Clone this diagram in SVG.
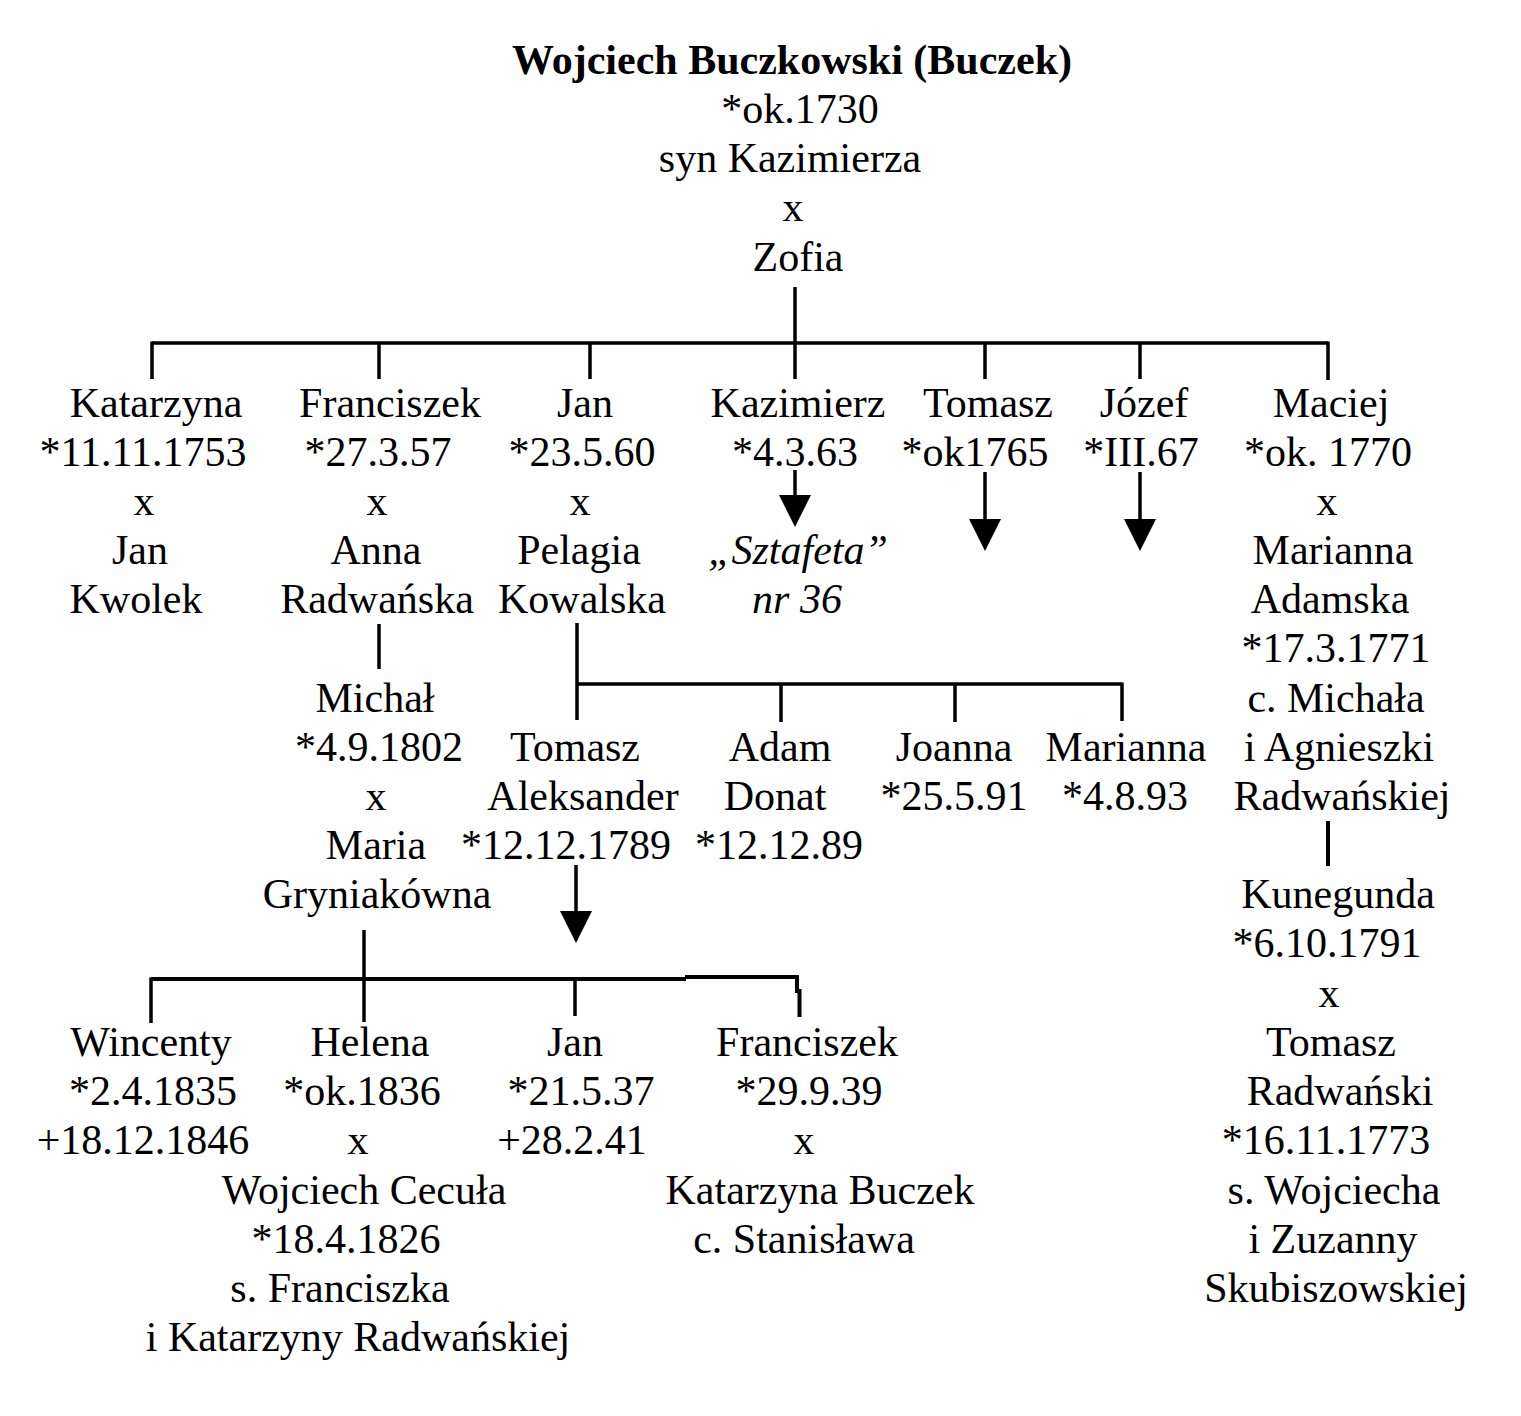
<svg xmlns="http://www.w3.org/2000/svg" width="1521" height="1416" viewBox="0 0 1521 1416">
<style>
text{font-family:"Liberation Serif","Times New Roman",serif;font-size:42px;fill:#000;text-anchor:middle}
.b{font-weight:bold}
.i{font-style:italic}
.c line,.c polyline{stroke:#000;stroke-width:3.5;fill:none}
</style>
<defs>
<marker id="ah" markerUnits="userSpaceOnUse" markerWidth="34" markerHeight="34" refX="26" refY="16" orient="auto">
<path d="M0,0 L32,16 L0,32 z" fill="#000"/>
</marker>
</defs>
<rect width="1521" height="1416" fill="#fff"/>
<g class="c" id="connectors">
<line x1="795" y1="287" x2="795" y2="379"/>
<line x1="152" y1="343" x2="1328" y2="343"/>
<line x1="152" y1="341.5" x2="152" y2="379"/>
<line x1="379" y1="343" x2="379" y2="379"/>
<line x1="590" y1="343" x2="590" y2="379"/>
<line x1="985" y1="343" x2="985" y2="379"/>
<line x1="1140" y1="343" x2="1140" y2="379"/>
<line x1="1328" y1="341.5" x2="1328" y2="380"/>
<line x1="795" y1="470" x2="795" y2="521" marker-end="url(#ah)"/>
<line x1="985" y1="472" x2="985" y2="545" marker-end="url(#ah)"/>
<line x1="1140" y1="472" x2="1140" y2="545" marker-end="url(#ah)"/>
<line x1="379" y1="624" x2="379" y2="669"/>
<line x1="577" y1="623" x2="577" y2="720"/>
<line x1="577" y1="684" x2="1122" y2="684"/>
<line x1="781" y1="684" x2="781" y2="722"/>
<line x1="955" y1="684" x2="955" y2="722"/>
<line x1="1122" y1="682.5" x2="1122" y2="721"/>
<line x1="576" y1="865" x2="576" y2="937" marker-end="url(#ah)"/>
<line x1="1328" y1="821" x2="1328" y2="866" style="stroke-width:4"/>
<line x1="364" y1="930" x2="364" y2="1022"/>
<line x1="151" y1="979" x2="686" y2="979" style="stroke-width:4"/>
<line x1="151" y1="977.5" x2="151" y2="1023"/>
<line x1="575" y1="979" x2="575" y2="1016"/>
<polyline points="685,977 797,977 797,991 799.5,991 799.5,1017" style="stroke-width:4"/>
</g>
<g id="n-root">
<text class="b" x="792" y="74">Wojciech Buczkowski (Buczek)</text>
<text x="800" y="123">*ok.1730</text>
<text x="790" y="172">syn Kazimierza</text>
<text x="793" y="221">x</text>
<text x="798" y="271">Zofia</text>
</g>
<g id="n-katarzyna">
<text x="156" y="417">Katarzyna</text>
<text x="143" y="466">*11.11.1753</text>
<text x="144" y="515">x</text>
<text x="140" y="564">Jan</text>
<text x="136" y="613">Kwolek</text>
</g>
<g id="n-franciszek">
<text x="390" y="417">Franciszek</text>
<text x="378" y="466">*27.3.57</text>
<text x="377" y="515">x</text>
<text x="376" y="564">Anna</text>
<text x="377" y="613">Radwańska</text>
</g>
<g id="n-jan">
<text x="585" y="417">Jan</text>
<text x="582" y="466">*23.5.60</text>
<text x="580" y="515">x</text>
<text x="579" y="564">Pelagia</text>
<text x="582" y="613">Kowalska</text>
</g>
<g id="n-kazimierz">
<text x="798" y="417">Kazimierz</text>
<text x="795" y="466">*4.3.63</text>
<text class="i" x="798" y="564">„Sztafeta”</text>
<text class="i" x="797" y="613">nr 36</text>
</g>
<g id="n-tomasz">
<text x="988" y="417">Tomasz</text>
<text x="975" y="466">*ok1765</text>
</g>
<g id="n-jozef">
<text x="1144" y="417">Józef</text>
<text x="1141" y="466">*III.67</text>
</g>
<g id="n-maciej">
<text x="1331" y="417">Maciej</text>
<text x="1328" y="466">*ok. 1770</text>
<text x="1327" y="515">x</text>
<text x="1333" y="564">Marianna</text>
<text x="1330" y="613">Adamska</text>
<text x="1336" y="662">*17.3.1771</text>
<text x="1336" y="712">c. Michała</text>
<text x="1339" y="761">i Agnieszki</text>
<text x="1342" y="810">Radwańskiej</text>
</g>
<g id="n-kunegunda">
<text x="1338" y="908">Kunegunda</text>
<text x="1327" y="957">*6.10.1791</text>
<text x="1329" y="1007">x</text>
<text x="1331" y="1056">Tomasz</text>
<text x="1340" y="1105">Radwański</text>
<text x="1326" y="1154">*16.11.1773</text>
<text x="1334" y="1204">s. Wojciecha</text>
<text x="1333" y="1253">i Zuzanny</text>
<text x="1336" y="1302">Skubiszowskiej</text>
</g>
<g id="n-michal">
<text x="375" y="712">Michał</text>
<text x="379" y="761">*4.9.1802</text>
<text x="376" y="810">x</text>
<text x="376" y="859">Maria</text>
<text x="377" y="908">Gryniakówna</text>
</g>
<g id="n-tomasz-aleksander">
<text x="575" y="761">Tomasz</text>
<text x="583" y="810">Aleksander</text>
<text x="566" y="859">*12.12.1789</text>
</g>
<g id="n-adam">
<text x="780" y="761">Adam</text>
<text x="775" y="810">Donat</text>
<text x="779" y="859">*12.12.89</text>
</g>
<g id="n-joanna">
<text x="954" y="761">Joanna</text>
<text x="954" y="810">*25.5.91</text>
</g>
<g id="n-marianna">
<text x="1126" y="761">Marianna</text>
<text x="1125" y="810">*4.8.93</text>
</g>
<g id="n-wincenty">
<text x="151" y="1056">Wincenty</text>
<text x="153" y="1105">*2.4.1835</text>
<text x="143" y="1154">+18.12.1846</text>
</g>
<g id="n-helena">
<text x="370" y="1056">Helena</text>
<text x="362" y="1105">*ok.1836</text>
<text x="358" y="1154">x</text>
<text x="364" y="1204">Wojciech Cecuła</text>
<text x="346" y="1253">*18.4.1826</text>
<text x="340" y="1302">s. Franciszka</text>
<text x="358" y="1351">i Katarzyny Radwańskiej</text>
</g>
<g id="n-jan2">
<text x="575" y="1056">Jan</text>
<text x="581" y="1105">*21.5.37</text>
<text x="572" y="1154">+28.2.41</text>
</g>
<g id="n-franciszek2">
<text x="807" y="1056">Franciszek</text>
<text x="809" y="1105">*29.9.39</text>
<text x="804" y="1154">x</text>
<text x="820" y="1204">Katarzyna Buczek</text>
<text x="804" y="1253">c. Stanisława</text>
</g>
</svg>
